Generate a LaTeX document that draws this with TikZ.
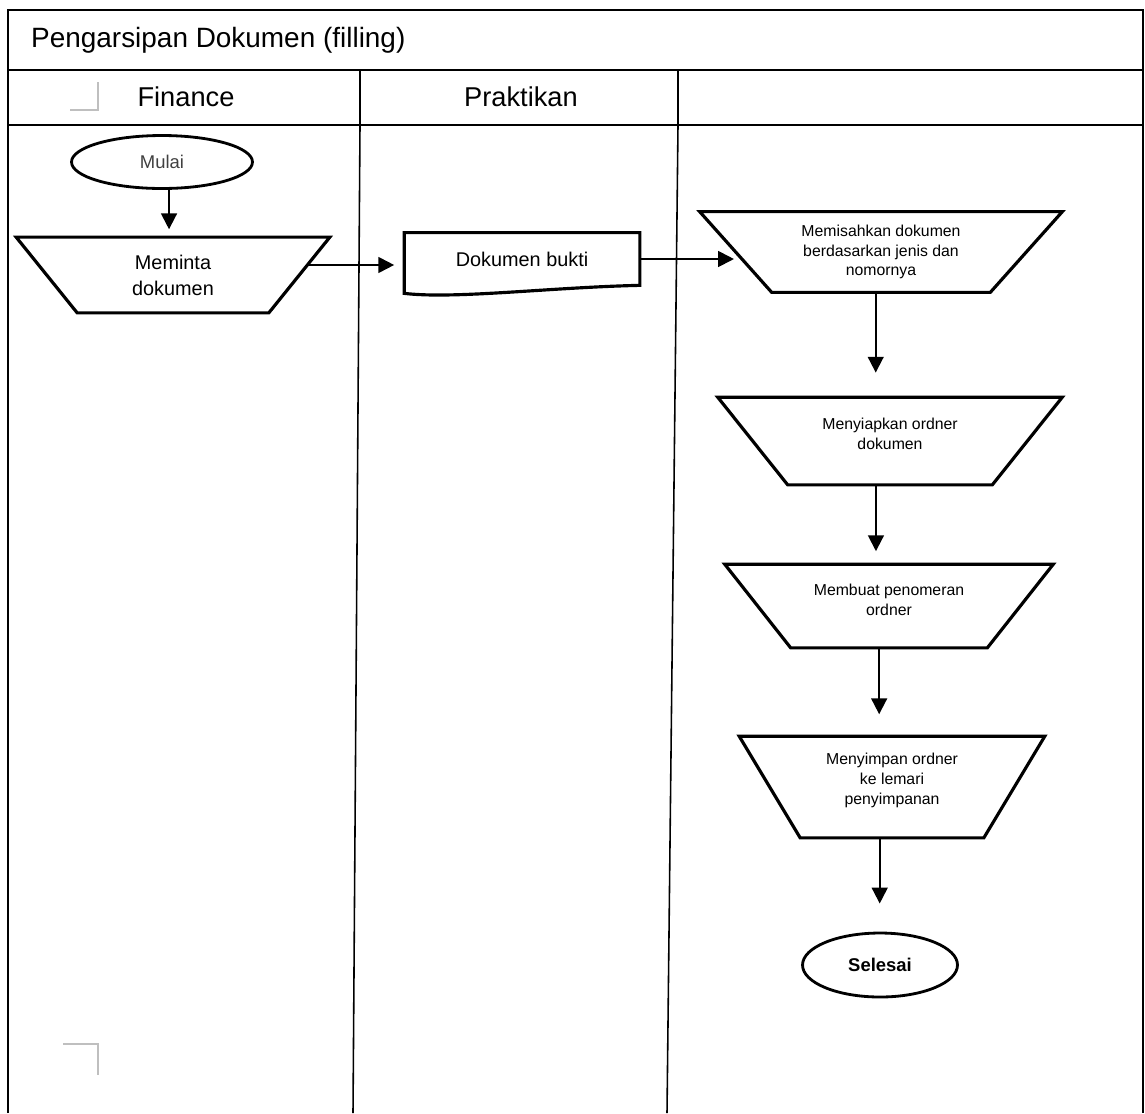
\documentclass[tikz,border=0pt]{standalone}
\usepackage{fontspec}
\setmainfont{Liberation Sans}
\usetikzlibrary{shapes.geometric,arrows.meta,calc}

\begin{document}
\begin{tikzpicture}[x=0.02cm, y=-0.02cm, align=center,
  frame/.style={line width=1.4pt},
  lane/.style={line width=0.9pt},
  arr/.style={line width=1.1pt, -{Triangle[length=9pt,width=9pt]}},
  term/.style={draw, ellipse, line width=1.6pt, inner sep=0pt},
  proc/.style={rectangle, inner sep=0pt, font=\fontsize{9}{11.3}\selectfont}]
\useasboundingbox (0,0) rectangle (1145,1113);
\draw[frame] (8,1113) -- (8,10) -- (1143,10) -- (1143,1113);
\draw[frame] (8,70) -- (1143,70) (8,125) -- (1143,125);
\draw[frame] (360,70) -- (360,125) (678,70) -- (678,125);
\draw[lane] (360,125) -- (353,1113) (678,125) -- (667,1113);
\draw[black!25, line width=0.6pt] (70,110) -- (98,110) -- (98,82) (63,1044) -- (98,1044) -- (98,1075);

\node[anchor=west, font=\fontsize{15.9}{18}\selectfont] (judul) at (25,40) {Pengarsipan Dokumen (filling)};
\node[font=\fontsize{15.5}{18}\selectfont] (finance) at (186,97) {Finance};
\node[font=\fontsize{15.5}{18}\selectfont] (praktikan) at (521,97) {Praktikan};

\node[term, minimum width=3.62cm, minimum height=1.06cm, text=black!75, font=\fontsize{10.5}{12}\selectfont] (mulai) at (162,162) {Mulai};
\node[proc, minimum width=6.26cm, minimum height=1.5cm, font=\fontsize{11.3}{14.7}\selectfont] (meminta) at (173,275) {Meminta\\dokumen};
\node[minimum width=4.7cm, minimum height=1.04cm, inner sep=0pt, font=\fontsize{11.3}{14}\selectfont] (bukti) at (522,259) {Dokumen bukti};
\draw[line width=1.8pt] ($(bukti.south west)+(0,8)$) -- (bukti.north west) -- (bukti.north east) -- (bukti.south east)
  .. controls +(-90,2) and +(50,6) .. ($(bukti.south west)+(0,8)$) -- cycle;

\node[proc, minimum width=7.24cm, minimum height=1.6cm] (pisah) at (881,252)
  {Memisahkan dokumen\\berdasarkan jenis dan\\nomornya};
\node[proc, minimum width=6.88cm, minimum height=1.74cm] (siap) at (890,441)
  {Menyiapkan ordner\\dokumen\\[-2.8pt]\mbox{}};
\node[proc, minimum width=6.56cm, minimum height=1.66cm] (nomor) at (889,606)
  {Membuat penomeran\\ordner\\[-4pt]\mbox{}};
\node[proc, minimum width=6.1cm, minimum height=2.02cm] (simpan) at (892,787)
  {Menyimpan ordner\\ke lemari\\penyimpanan\\[-2pt]\mbox{}};
\foreach \n/\d in {meminta/61, pisah/72, siap/70, nomor/66, simpan/61}
  \draw[line width=1.8pt] (\n.north west) -- (\n.north east) -- ($(\n.south east)+(-\d,0)$) -- ($(\n.south west)+(\d,0)$) -- cycle;
\node[term, minimum width=3.1cm, minimum height=1.28cm, font=\bfseries\fontsize{10.5}{12}\selectfont] (selesai) at (880,965) {Selesai};

\draw[arr, shorten >=4.5pt] ([xshift=4pt]mulai.south) -- ([xshift=4pt]mulai.south |- meminta.north);
\draw[arr, shorten >=5.7pt] ([yshift=5.7pt,xshift=-13pt]meminta.east) -- ([yshift=5.7pt]meminta.east -| bukti.west);
\draw[arr, shorten >=4.5pt] (bukti.east) -- ([xshift=24pt]bukti.east -| pisah.west);
\draw[arr, shorten >=14pt] ([xshift=-3pt]pisah.south) -- ([xshift=-3pt]pisah.south |- siap.north);
\draw[arr, shorten >=7.4pt] ([xshift=-8pt]siap.south) -- ([xshift=-8pt]siap.south |- nomor.north);
\draw[arr, shorten >=12.5pt] ([xshift=-5.6pt]nomor.south) -- ([xshift=-5.6pt]nomor.south |- simpan.north);
\draw[arr, shorten >=16pt] ([xshift=-7pt]simpan.south) -- ([xshift=-7pt]simpan.south |- selesai.north);
\end{tikzpicture}
\end{document}
